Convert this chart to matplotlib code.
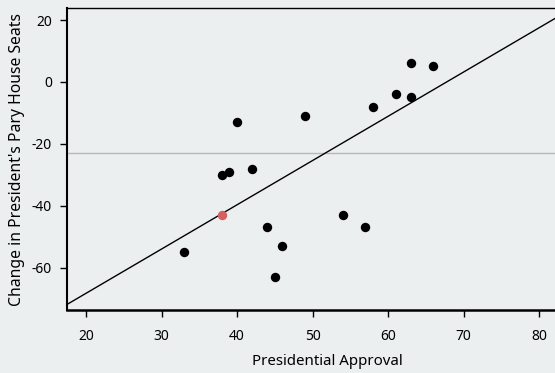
import matplotlib.pyplot as plt
import numpy as np

# approval (%) and seat change for each midterm
approval = [40, 38, 39, 42, 49, 58, 61, 63, 63, 66, 33, 44, 46, 45, 54, 57]
seat_change = [-13, -30, -29, -28, -11, -8, -4, -5, 6, 5, -55, -47, -53, -63, -43, -47]

highlight_x = [38]
highlight_y = [-43]

fit_intercept = -96.9
fit_slope = 1.43
mean_change = -23.0

x_ticks = [20, 30, 40, 50, 60, 70, 80]
y_ticks = [-60, -40, -20, 0, 20]

bg = '#eceff0'
plt.rcParams['font.family'] = ['Noto Sans', 'DejaVu Sans']
plt.rcParams['axes.unicode_minus'] = False

fig = plt.figure(figsize=(5.55, 3.73), dpi=100, facecolor=bg)
ax = fig.add_axes([0.1213, 0.1689, 0.937, 0.8088])
ax.set_facecolor(bg)

ax.set_xlim(17.52, 86.4)
ax.set_ylim(-73.7, 23.8)

ax.axhline(mean_change, color='#b8b8b8', lw=1.0, zorder=1)
xs = np.array(ax.get_xlim())
ax.plot(xs, fit_intercept + fit_slope * xs, color='black', lw=1.0, zorder=2)

ax.scatter(approval, seat_change, s=46, color='black', zorder=3, linewidths=0)
ax.scatter(highlight_x, highlight_y, s=46, color='#d65f5f', zorder=4, linewidths=0)

ax.set_xticks(x_ticks)
ax.set_yticks(y_ticks)
ax.tick_params(axis='both', labelsize=10, length=5, width=1, colors='black', pad=6)
ax.tick_params(axis='x', pad=9)

ax.spines['right'].set_visible(False)
ax.spines['left'].set_linewidth(1.5)
ax.spines['bottom'].set_linewidth(1.8)
ax.spines['top'].set_linewidth(1.0)

ax.set_xlabel('Presidential Approval', fontsize=10.8, labelpad=7)
ax.set_ylabel("Change in President's Pary House Seats", fontsize=11.3, labelpad=5)

fig.savefig('out.png', dpi=100, facecolor=bg)
